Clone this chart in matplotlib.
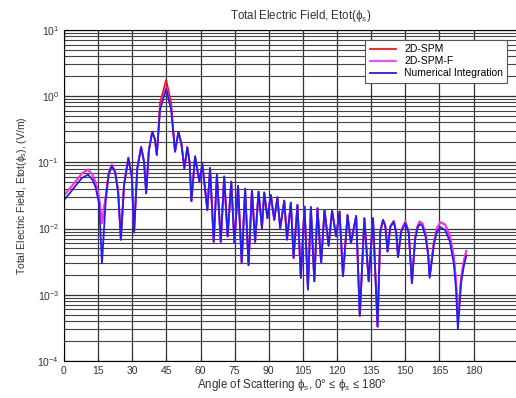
import matplotlib
matplotlib.use("Agg")
import matplotlib.pyplot as plt
from matplotlib.ticker import LogLocator, NullFormatter

plt.rcParams["font.family"] = ["Liberation Sans", "DejaVu Sans"]
plt.rcParams["mathtext.fontset"] = "custom"
plt.rcParams["mathtext.rm"] = "Liberation Sans"
plt.rcParams["mathtext.it"] = "Liberation Sans"

# scattering angle [deg]
angle = [
    0.0, 2.5, 4.8, 7.9, 10.6, 12.5, 13.9, 15.4, 16.7, 18.3,
    19.6, 21.0, 22.5, 23.8, 25.0, 26.4, 28.3, 29.8, 30.8, 32.2,
    33.9, 35.2, 36.1, 37.3, 38.8, 40.0, 40.8, 42.2, 44.9, 47.1,
    48.8, 50.3, 51.6, 52.9, 54.2, 55.2, 56.0, 57.6, 59.5, 60.8,
    63.0, 64.2, 65.8, 67.2, 68.9, 70.4, 71.9, 73.5, 74.9, 76.5,
    78.1, 79.6, 81.1, 82.6, 84.0, 85.5, 87.0, 88.0, 89.4, 90.9,
    92.4, 93.8, 95.0, 96.8, 98.0, 99.7, 100.9, 102.6, 104.1, 105.7,
    107.2, 108.5, 110.0, 111.4, 113.0, 114.5, 116.3, 117.8, 119.6, 121.1,
    122.6, 124.6, 126.1, 128.4, 130.0, 132.0, 133.9, 135.8, 137.8, 139.0,
    140.2, 141.2, 142.2, 143.4, 144.9, 146.0, 146.8, 148.2, 150.0, 151.5,
    152.9, 154.3, 155.3, 156.3, 157.5, 158.9, 160.0, 160.7, 162.5, 163.8,
    165.4, 167.5, 169.5, 171.3, 172.3, 173.1, 174.5, 175.7, 176.8,
]

# numerical integration [V/m]
e_num = [
    0.027, 0.034, 0.043, 0.058, 0.065, 0.055, 0.042, 0.024, 0.0030, 0.025,
    0.065, 0.088, 0.070, 0.035, 0.0068, 0.045, 0.115, 0.060, 0.0087, 0.080,
    0.169, 0.100, 0.034, 0.150, 0.29, 0.22, 0.129, 0.62, 1.27, 0.62,
    0.145, 0.29, 0.19, 0.081, 0.169, 0.10, 0.026, 0.123, 0.051, 0.095,
    0.019, 0.082, 0.0063, 0.065, 0.0063, 0.061, 0.0076, 0.051, 0.0060, 0.044,
    0.0030, 0.040, 0.0028, 0.038, 0.0063, 0.036, 0.0101, 0.035, 0.0143, 0.032,
    0.0135, 0.0297, 0.0101, 0.0264, 0.0068, 0.0246, 0.0036, 0.0227, 0.0018, 0.0214,
    0.0012, 0.0210, 0.0016, 0.0203, 0.0030, 0.0191, 0.0055, 0.0186, 0.0076, 0.0180,
    0.0019, 0.0160, 0.0060, 0.0155, 0.00048, 0.0143, 0.0016, 0.0143, 0.00033, 0.0090,
    0.0135, 0.0110, 0.0045, 0.0105, 0.0127, 0.0085, 0.0037, 0.0090, 0.0120, 0.0085,
    0.0015, 0.0068, 0.0100, 0.0117, 0.0110, 0.0075, 0.0040, 0.0018, 0.0055, 0.0088,
    0.0105, 0.0095, 0.0065, 0.0030, 0.0012, 0.0003, 0.0015, 0.0027, 0.0039,
]

# 2D-SPM-F [V/m]
e_spmf = [
    0.032, 0.040, 0.050, 0.068, 0.078, 0.065, 0.050, 0.030, 0.012, 0.030,
    0.068, 0.092, 0.073, 0.037, 0.0068, 0.047, 0.118, 0.062, 0.0087, 0.082,
    0.172, 0.102, 0.034, 0.152, 0.29, 0.22, 0.129, 0.65, 1.35, 0.65,
    0.145, 0.29, 0.19, 0.081, 0.169, 0.10, 0.026, 0.123, 0.051, 0.095,
    0.019, 0.082, 0.0063, 0.065, 0.0063, 0.061, 0.0076, 0.051, 0.0060, 0.044,
    0.0030, 0.040, 0.0028, 0.038, 0.0063, 0.036, 0.0101, 0.035, 0.0143, 0.032,
    0.0135, 0.0297, 0.0101, 0.0264, 0.0068, 0.0246, 0.0036, 0.0227, 0.0018, 0.0214,
    0.0012, 0.0210, 0.0016, 0.0203, 0.0030, 0.0191, 0.0055, 0.0186, 0.0076, 0.0180,
    0.0019, 0.0160, 0.0060, 0.0155, 0.00048, 0.0143, 0.0016, 0.0143, 0.00033, 0.0090,
    0.0135, 0.0110, 0.0045, 0.0108, 0.0130, 0.0088, 0.0037, 0.0094, 0.0128, 0.0090,
    0.0015, 0.0072, 0.0108, 0.0128, 0.0120, 0.0082, 0.0044, 0.0019, 0.0062, 0.0100,
    0.0125, 0.0115, 0.0080, 0.0038, 0.0016, 0.0004, 0.0018, 0.0032, 0.0046,
]

# 2D-SPM [V/m]
e_spm = [
    0.032, 0.040, 0.050, 0.068, 0.078, 0.065, 0.050, 0.030, 0.012, 0.030,
    0.068, 0.092, 0.073, 0.037, 0.0068, 0.047, 0.118, 0.062, 0.0087, 0.082,
    0.172, 0.102, 0.034, 0.152, 0.29, 0.22, 0.129, 0.78, 1.76, 0.78,
    0.145, 0.29, 0.19, 0.081, 0.169, 0.10, 0.026, 0.123, 0.051, 0.095,
    0.019, 0.082, 0.0063, 0.065, 0.0063, 0.061, 0.0076, 0.051, 0.0060, 0.044,
    0.0030, 0.040, 0.0028, 0.038, 0.0063, 0.036, 0.0101, 0.035, 0.0143, 0.032,
    0.0135, 0.0297, 0.0101, 0.0264, 0.0068, 0.0246, 0.0036, 0.0227, 0.0018, 0.0214,
    0.0012, 0.0210, 0.0016, 0.0203, 0.0030, 0.0191, 0.0055, 0.0186, 0.0076, 0.0180,
    0.0019, 0.0160, 0.0060, 0.0155, 0.00048, 0.0143, 0.0016, 0.0143, 0.00033, 0.0090,
    0.0135, 0.0110, 0.0045, 0.0108, 0.0130, 0.0088, 0.0037, 0.0094, 0.0128, 0.0090,
    0.0015, 0.0072, 0.0108, 0.0128, 0.0120, 0.0082, 0.0044, 0.0019, 0.0062, 0.0100,
    0.0125, 0.0115, 0.0080, 0.0038, 0.0016, 0.0004, 0.0018, 0.0032, 0.0046,
]

x_ticks = list(range(0, 181, 15))

fig = plt.figure(figsize=(5.16, 3.98), dpi=100)
ax = fig.add_axes([0.124, 0.093, 0.882, 0.832])

ax.semilogy(angle, e_spm, color="#ff1010", lw=1.3, label="2D-SPM")
ax.semilogy(angle, e_spmf, color="#ff30ff", lw=1.3, label="2D-SPM-F")
ax.semilogy(angle, e_num, color="#2020ee", lw=1.3, label="Numerical Integration")

ax.set_xlim(0, 200)
ax.set_ylim(1e-4, 1e1)
ax.set_xticks(x_ticks)
ax.yaxis.set_major_locator(LogLocator(base=10, numticks=10))
ax.yaxis.set_minor_locator(LogLocator(base=10, subs=range(2, 10), numticks=20))
ax.yaxis.set_minor_formatter(NullFormatter())

ax.grid(True, which="major", color="#333333", lw=0.9)
ax.grid(True, which="minor", axis="y", color="#444444", lw=0.8)
ax.tick_params(which="both", direction="in", top=True, right=True,
               labelsize=7.5, colors="#333333", labelcolor="#333333")
ax.tick_params(which="minor", length=2)

ax.set_title(r"Total Electric Field, Etot($\phi_s$)", fontsize=8.3, color="#333333",
             pad=8, x=0.52)
ax.set_xlabel(r"Angle of Scattering $\phi_s$, 0° ≤ $\phi_s$ ≤ 180°", fontsize=8.3,
              color="#333333", labelpad=1)
ax.set_ylabel(r"Total Electric Field, Etot($\phi_s$), (V/m)", fontsize=7.5,
              color="#333333", labelpad=6)

leg = ax.legend(loc="upper right", bbox_to_anchor=(0.985, 0.985), fontsize=7.5,
                frameon=True, fancybox=False, edgecolor="#555555", framealpha=1,
                handlelength=2.5, borderpad=0.4, labelspacing=0.2)
leg.get_frame().set_linewidth(0.8)

fig.savefig("out.png", dpi=100)
